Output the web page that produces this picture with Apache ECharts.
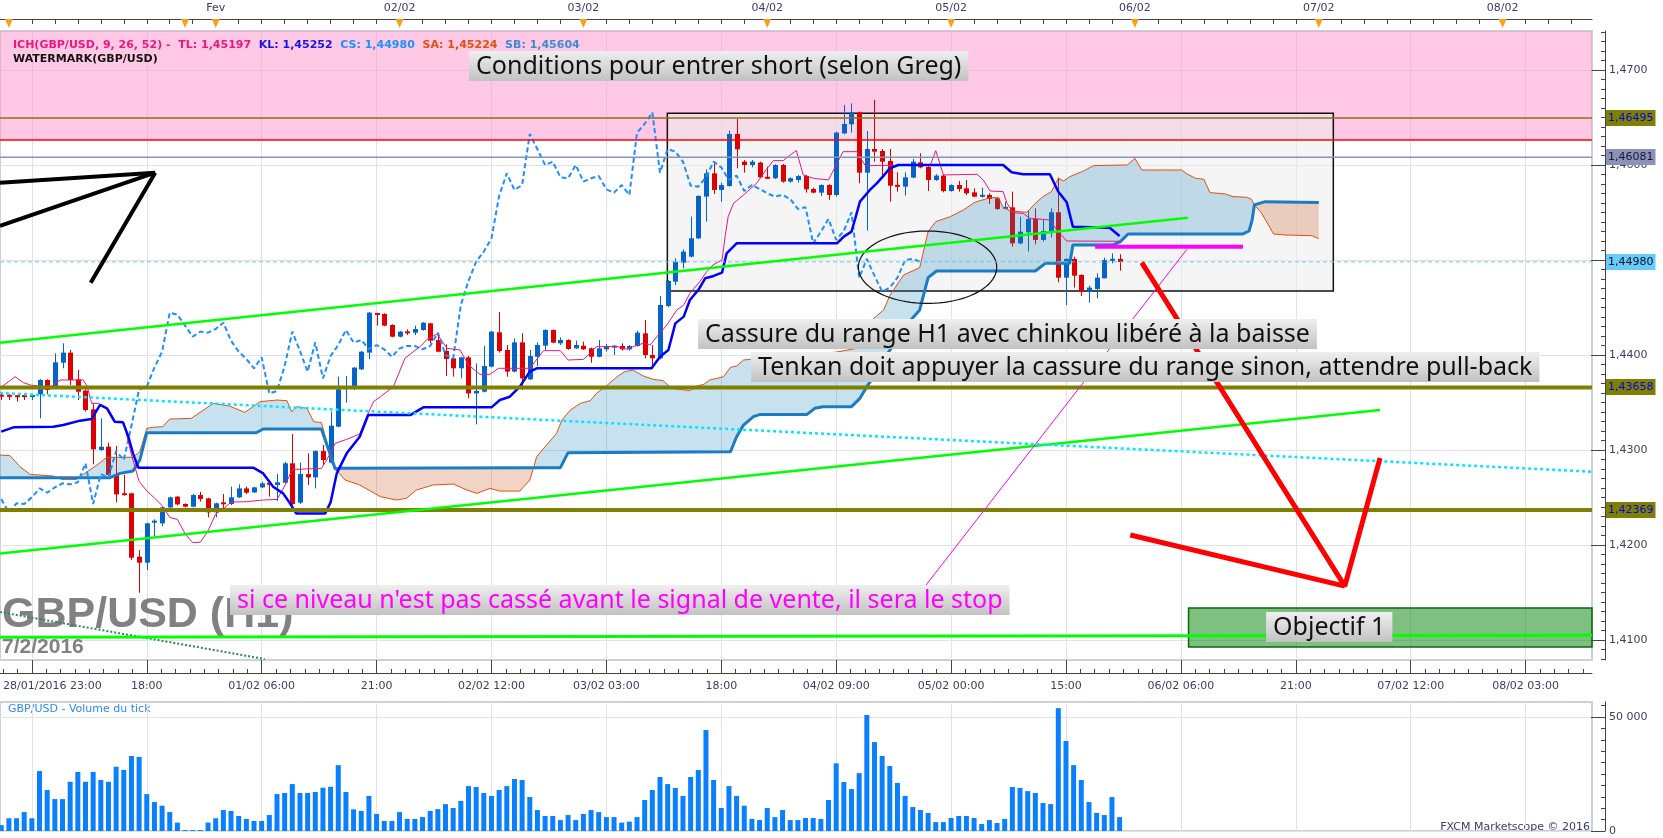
<!DOCTYPE html>
<html><head><meta charset="utf-8">
<script src="https://cdn.jsdelivr.net/npm/echarts@6/dist/echarts.min.js"></script>
<style>html,body{margin:0;padding:0;background:#fff}#c{width:1663px;height:838px}</style>
</head><body><div id="c"></div>
<script>
// ---------- DATA (hourly bars, index 0 = 28/01/2016 19:00) ----------
const openP = [1.43579,1.43579,1.43572,1.43575,1.43561,1.43586,1.43737,1.43674,1.43919,1.44025,
1.43744,1.43625,1.43428,1.43000,1.43035,1.42747,1.42544,1.42544,1.41877,1.41814,
1.42239,1.42228,1.42396,1.42509,1.42432,1.42404,1.42526,1.42491,1.42344,1.42446,
1.42432,1.42502,1.42596,1.42554,1.42607,1.42649,1.42632,1.42656,1.42860,1.42446,
1.42747,1.42712,1.42989,1.42867,1.43246,1.43649,1.43660,1.43849,1.44025,1.44439,
1.44432,1.44316,1.44193,1.44242,1.44235,1.44263,1.44333,1.44158,1.44042,1.43965,
1.43860,1.43975,1.43596,1.43614,1.43877,1.44239,1.44053,1.43825,1.44133,1.43744,
1.43982,1.44098,1.44263,1.44123,1.44158,1.44070,1.44098,1.44070,1.43982,1.44060,
1.44081,1.44095,1.44060,1.44095,1.44228,1.44000,1.43965,1.44516,1.44772,1.44972,
1.45035,1.45228,1.45667,1.45912,1.45737,1.45779,1.46326,1.46035,1.46000,1.46025,
1.45870,1.45860,1.46000,1.45825,1.45842,1.45884,1.45747,1.45709,1.45789,1.45684,
1.46333,1.46428,1.46554,1.45919,1.46168,1.46147,1.46042,1.45789,1.45772,1.45867,
1.46028,1.45979,1.45842,1.45888,1.45726,1.45789,1.45754,1.45712,1.45667,1.45684,
1.45649,1.45544,1.45554,1.45175,1.45291,1.45432,1.45211,1.45298,1.45502,1.44814,
1.45011,1.44842,1.44667,1.44695,1.44807,1.44993,1.45011];
const highP = [1.43596,1.43586,1.43579,1.43586,1.43586,1.43747,1.43744,1.44018,1.44123,1.44053,
1.43842,1.43639,1.43491,1.43333,1.43077,1.43042,1.42737,1.42551,1.41947,1.42235,
1.42270,1.42404,1.42509,1.42516,1.42439,1.42537,1.42561,1.42498,1.42446,1.42537,
1.42614,1.42639,1.42614,1.42614,1.42667,1.42656,1.42747,1.42874,1.43168,1.42867,
1.42965,1.42996,1.43053,1.43404,1.43772,1.43779,1.43874,1.44042,1.44453,1.44442,
1.44439,1.44323,1.44253,1.44270,1.44309,1.44347,1.44340,1.44200,1.44112,1.43972,
1.43982,1.43989,1.43912,1.44095,1.44253,1.44453,1.44105,1.44175,1.44228,1.44053,
1.44133,1.44270,1.44270,1.44186,1.44165,1.44151,1.44140,1.44077,1.44158,1.44116,
1.44105,1.44123,1.44105,1.44256,1.44368,1.44105,1.44621,1.44789,1.45018,1.45112,
1.45456,1.45681,1.45954,1.46025,1.45814,1.46361,1.46484,1.46053,1.46053,1.46035,
1.45982,1.46007,1.46011,1.45870,1.45895,1.45895,1.45761,1.45796,1.45796,1.46351,
1.46632,1.46649,1.46561,1.46358,1.46684,1.46168,1.46168,1.45923,1.45923,1.46063,
1.46123,1.45986,1.45902,1.45895,1.45796,1.45832,1.45842,1.45754,1.45761,1.45702,
1.45656,1.45614,1.45719,1.45456,1.45526,1.45544,1.45421,1.45544,1.45867,1.45018,
1.45035,1.44849,1.44730,1.44860,1.45025,1.45070,1.45060];
const lowP = [1.43526,1.43526,1.43509,1.43526,1.43526,1.43333,1.43586,1.43649,1.43860,1.43684,
1.43526,1.43404,1.42849,1.42993,1.42730,1.42449,1.42519,1.41842,1.41498,1.41737,
1.42095,1.42200,1.42389,1.42418,1.42396,1.42396,1.42456,1.42291,1.42291,1.42368,
1.42421,1.42495,1.42537,1.42547,1.42600,1.42509,1.42463,1.42649,1.42421,1.42432,
1.42632,1.42596,1.42842,1.42860,1.43239,1.43498,1.43632,1.43842,1.43958,1.44309,
1.44302,1.44186,1.44186,1.44211,1.44211,1.44256,1.44123,1.44028,1.43779,1.43772,
1.43754,1.43544,1.43270,1.43607,1.43870,1.44025,1.43772,1.43818,1.43632,1.43737,
1.43884,1.44053,1.44123,1.44105,1.44056,1.44063,1.44053,1.43919,1.43975,1.44035,
1.44000,1.44046,1.44046,1.44088,1.43965,1.43870,1.43954,1.44502,1.44737,1.44912,
1.45028,1.45221,1.45404,1.45695,1.45614,1.45772,1.45965,1.45919,1.45975,1.45860,
1.45853,1.45853,1.45814,1.45814,1.45814,1.45709,1.45702,1.45674,1.45632,1.45667,
1.46323,1.46340,1.45807,1.45309,1.46035,1.45877,1.45614,1.45719,1.45677,1.45860,
1.45965,1.45726,1.45832,1.45712,1.45719,1.45719,1.45684,1.45660,1.45656,1.45589,
1.45526,1.45537,1.45140,1.45165,1.45088,1.45165,1.45193,1.45235,1.44765,1.44526,
1.44709,1.44621,1.44551,1.44596,1.44807,1.44965,1.44888];
const closeP = [1.43565,1.43561,1.43561,1.43561,1.43575,1.43737,1.43632,1.43923,1.44025,1.43737,
1.43614,1.43421,1.43007,1.43035,1.42737,1.42533,1.42526,1.41867,1.41814,1.42228,
1.42253,1.42396,1.42502,1.42428,1.42404,1.42526,1.42484,1.42344,1.42439,1.42432,
1.42502,1.42596,1.42551,1.42607,1.42649,1.42639,1.42660,1.42860,1.42432,1.42747,
1.42712,1.42989,1.42895,1.43256,1.43639,1.43667,1.43867,1.44035,1.44446,1.44425,
1.44309,1.44193,1.44246,1.44235,1.44274,1.44340,1.44151,1.44035,1.43958,1.43860,
1.43975,1.43596,1.43621,1.43884,1.44246,1.44042,1.43825,1.44133,1.43754,1.43989,
1.44105,1.44263,1.44130,1.44158,1.44063,1.44105,1.44060,1.43982,1.44070,1.44095,
1.44095,1.44060,1.44095,1.44235,1.44000,1.43965,1.44526,1.44779,1.44982,1.45088,
1.45228,1.45674,1.45912,1.45737,1.45789,1.46326,1.46165,1.46000,1.46035,1.45870,
1.45860,1.46000,1.45825,1.45860,1.45884,1.45744,1.45709,1.45789,1.45684,1.46340,
1.46432,1.46554,1.45919,1.46168,1.46140,1.46035,1.45782,1.45772,1.45870,1.46035,
1.45975,1.45842,1.45888,1.45726,1.45789,1.45747,1.45702,1.45667,1.45684,1.45642,
1.45537,1.45554,1.45175,1.45298,1.45432,1.45211,1.45305,1.45502,1.44814,1.45011,
1.44835,1.44667,1.44709,1.44814,1.45000,1.45011,1.44980];
const tickVolume = [2600,5600,5600,8300,5600,26300,18000,14000,14000,21600,
25900,21600,25900,22400,21600,28200,26800,32900,32500,16200,
12700,11100,8300,3700,400,400,400,3700,5600,9200,
8800,6600,5300,4400,4400,7000,16200,16700,20600,16700,
16700,17100,19000,19400,28900,17100,9500,8800,15400,7500,
4400,4400,8300,5300,5300,6100,8800,9600,11800,10100,
13200,19700,19300,16700,15400,18000,19700,22800,22400,14900,
9200,6600,6600,4800,7000,4800,7500,9200,8300,6100,
6100,3700,4100,6100,13600,18000,23700,20600,18900,15400,
23700,26800,44300,22400,10100,19700,15400,11100,5300,4800,
10100,6100,9200,4800,4800,5700,5700,5300,13600,29700,
21500,18400,25400,50900,39000,32900,28500,21100,15400,10500,
9200,7900,3900,3900,5700,6600,6600,5700,3100,4800,
3500,5300,19300,18900,17500,16700,12300,11800,53900,39500,
28900,22400,12700,7900,7000,14900,6100];

// Ichimoku lines: [bar index, price]
const tenkan = [[0,1.43660],[1.8,1.43772],[2.9,1.43709],[3.8,1.43684],[4.8,1.43674],[5.5,1.43649],[6.4,1.43660],[7.7,1.43737],[10.7,1.43737],[11.2,1.43674],[11.8,1.43491],[12.7,1.43491],[14,1.43430],[15,1.43290],[16,1.43290],[17,1.42950],[18,1.42670],[19,1.42570],[20,1.42495],[21,1.42416],[22,1.42290],[23,1.42270],[24,1.42118],[25,1.42025],[26,1.42030],[27,1.42149],[28,1.42328],[29,1.42380],[30,1.42453],[32,1.42456],[34.2,1.42474],[36,1.42480],[37,1.42621],[38,1.42795],[41.8,1.42807],[42.5,1.42895],[43.6,1.43070],[45.1,1.43112],[46.8,1.43168],[47.7,1.43351],[48.6,1.43509],[49.5,1.43561],[51.2,1.43667],[52.7,1.43965],[53.8,1.44035],[54.7,1.44088],[55.6,1.44165],[56.9,1.44221],[58.2,1.44070],[59.9,1.44053],[61.0,1.43895],[62.5,1.43796],[63.8,1.43796],[64.9,1.43860],[69.0,1.43860],[70.8,1.44046],[73.0,1.44046],[74.0,1.43947],[76.0,1.43954],[76.9,1.44018],[77.7,1.44088],[80.4,1.44088],[81.7,1.44060],[82.5,1.44088],[83.8,1.44123],[84.7,1.44105],[85.6,1.44193],[86.9,1.44316],[88.2,1.44474],[89.1,1.44526],[89.9,1.44649],[91.2,1.44772],[92.1,1.44877],[92.9,1.44947],[94.1,1.45000],[94.5,1.45246],[94.9,1.45456],[95.6,1.45596],[96.9,1.45684],[98.6,1.45807],[99.9,1.45954],[100.8,1.46046],[102.1,1.46046],[103.0,1.46105],[103.8,1.46151],[104.7,1.45895],[106.0,1.45860],[108.0,1.45842],[109.1,1.46018],[109.9,1.46140],[111.7,1.46140],[112.8,1.45993],[121.3,1.46000],[122.0,1.46151],[123.0,1.45895],[127.4,1.45902],[128.2,1.45842],[129.1,1.45726],[130.8,1.45719],[131.3,1.45596],[132.1,1.45498],[133.4,1.45491],[134.3,1.45439],[136.9,1.45421],[137.8,1.45316],[139.1,1.45200],[146,1.45197]];
const kijun = [[0,1.43193],[1.6,1.43239],[6.8,1.43246],[8.1,1.43263],[10.3,1.43309],[11.8,1.43326],[12.9,1.43474],[13.8,1.43439],[14.8,1.43298],[15.9,1.43291],[16.6,1.43140],[17.2,1.42965],[17.9,1.42814],[32.9,1.42814],[34.2,1.42754],[35.5,1.42614],[36.8,1.42544],[37.7,1.42439],[38.5,1.42333],[42.3,1.42333],[43,1.42451],[43.8,1.42754],[45.1,1.42965],[46.8,1.43140],[47.9,1.43368],[53.4,1.43368],[55.1,1.43449],[64.0,1.43449],[65.1,1.43526],[66.4,1.43561],[67.7,1.43667],[69.0,1.43825],[69.9,1.43860],[84.9,1.43860],[86.0,1.43982],[87.1,1.44053],[88.0,1.44333],[89.1,1.44404],[89.9,1.44579],[91.0,1.44684],[91.9,1.44807],[93.0,1.44832],[94.1,1.44867],[94.7,1.45070],[96.0,1.45175],[109.1,1.45175],[110.0,1.45246],[111.0,1.45298],[111.5,1.45439],[112.1,1.45614],[113.4,1.45737],[114.3,1.45807],[115.2,1.45888],[116.0,1.45965],[117.1,1.46000],[130.8,1.46000],[131.9,1.45923],[133.4,1.45902],[136.9,1.45902],[138.0,1.45719],[139.1,1.45607],[139.9,1.45351],[144.7,1.45340],[146,1.45252]];
const senkouA = [[-0.16,1.42947],[1.15,1.42940],[2.45,1.42825],[3.76,1.42744],[6.8,1.42726],[7.9,1.42691],[9.8,1.42691],[10.9,1.42754],[12.5,1.42842],[13.8,1.42923],[17.2,1.42923],[18.1,1.42982],[19.0,1.43228],[19.8,1.43239],[21.1,1.43246],[22.0,1.43326],[24.8,1.43333],[27.7,1.43491],[29.8,1.43463],[31.8,1.43396],[33.8,1.43509],[36.0,1.43526],[37.3,1.43519],[37.9,1.43404],[38.6,1.43456],[39.9,1.43439],[40.8,1.43298],[41.8,1.43288],[42.9,1.42965],[43.6,1.42800],[44.9,1.42684],[46.8,1.42632],[49.5,1.42509],[51.6,1.42474],[52.9,1.42491],[54.2,1.42579],[56.4,1.42632],[59.0,1.42642],[60.8,1.42579],[62.1,1.42544],[63.8,1.42596],[65.1,1.42568],[67.7,1.42568],[69.0,1.42684],[69.5,1.42814],[69.9,1.42930],[71.2,1.43053],[72.5,1.43175],[73.2,1.43316],[74.3,1.43421],[75.6,1.43491],[76.9,1.43519],[77.7,1.43596],[79.0,1.43674],[80.4,1.43772],[81.4,1.43825],[82.5,1.43842],[83.8,1.43779],[85.1,1.43744],[86.4,1.43730],[87.5,1.43649],[88.6,1.43638],[89.9,1.43625],[90.8,1.43674],[91.7,1.43691],[92.5,1.43737],[93.4,1.43754],[94.3,1.43772],[95.2,1.43870],[96.0,1.43884],[96.9,1.43947],[97.7,1.43954],[98.6,1.43975],[101.0,1.44000],[105.0,1.44010],[109.0,1.44030],[111.7,1.44070],[112.7,1.44175],[113.9,1.44386],[115.2,1.44474],[116.0,1.44625],[117.8,1.44842],[119.9,1.44919],[121.0,1.45298],[122.0,1.45404],[123.9,1.45456],[125.6,1.45526],[127.1,1.45607],[129.1,1.45656],[130.2,1.45656],[130.8,1.45551],[131.7,1.45516],[133.9,1.45502],[135.0,1.45596],[136.0,1.45667],[137.1,1.45719],[138.0,1.45860],[138.7,1.45832],[139.5,1.45877],[141.3,1.45937],[142.6,1.45993],[147.0,1.46000],[148.0,1.46070],[148.9,1.45947],[154.1,1.45947],[154.8,1.45905],[155.9,1.45860],[157.0,1.45849],[157.8,1.45709],[159.8,1.45695],[160.8,1.45667],[162.6,1.45660],[163.2,1.45639],[163.6,1.45580],[164.5,1.45498],[166.1,1.45274],[167.6,1.45263],[171.1,1.45256],[172.0,1.45224]];
const senkouB = [[-0.16,1.42709],[14.2,1.42709],[15.5,1.42754],[17.2,1.42779],[18.1,1.42895],[19.0,1.43182],[33.3,1.43182],[34.2,1.43221],[41.8,1.43221],[42.9,1.42965],[43.6,1.42800],[44.0,1.42807],[69.5,1.42814],[73.0,1.42814],[74.0,1.42972],[95.2,1.42982],[96.0,1.43140],[96.9,1.43263],[98.2,1.43351],[99.1,1.43375],[105.2,1.43375],[106.2,1.43439],[107.3,1.43456],[111.0,1.43456],[112.1,1.43544],[113.0,1.43667],[113.9,1.43772],[114.7,1.43895],[116.0,1.44050],[118.0,1.44300],[119.9,1.44474],[121.0,1.44814],[122.1,1.44884],[135.0,1.44884],[136.3,1.44965],[139.5,1.44965],[139.9,1.45158],[145.2,1.45158],[146.1,1.45193],[147.1,1.45274],[162.1,1.45274],[162.9,1.45305],[163.3,1.45421],[163.6,1.45580],[163.7,1.45596],[165.0,1.45614],[172.0,1.45604]];
const cloudSegments = [[-0.16, 43.6, 'up'], [43.6, 69.5, 'down'], [69.5, 163.6, 'up'], [163.6, 172.0, 'down']];
const chikouLag = 26;

// Legend values
const ichLabels = ['TL', 'KL', 'CS', 'SA', 'SB'];
const ichValues = [1.45197, 1.45252, 1.44980, 1.45224, 1.45604];

// Axis ticks / labels
const xBottomTicks = [4, 19, 34, 49, 64, 79, 94, 109, 124, 139, 154, 169, 184, 199];
const xBottomLabels = ['28/01/2016 23:00', '18:00', '01/02 06:00', '21:00', '02/02 12:00', '03/02 03:00', '18:00', '04/02 09:00', '05/02 00:00', '15:00', '06/02 06:00', '21:00', '07/02 12:00', '08/02 03:00'];
const xTopTicks = [28, 52, 76, 100, 124, 148, 172, 196];
const xTopLabels = ['Fev', '02/02', '03/02', '04/02', '05/02', '06/02', '07/02', '08/02'];
const calendarMarks = [1, 24, 28, 52, 76, 100, 124, 148, 172, 196];
const yTicks = [1.41, 1.42, 1.43, 1.44, 1.45, 1.46, 1.47];
const volTicks = [0, 50000];

// Drawn levels & annotations (price levels, trend lines, notes)
const priceLevels = [1.46495, 1.46263, 1.46081, 1.44980, 1.43658, 1.42369];
const zoneRects = [[-0.16, 1.4741, 207.67, 1.46263], [86.96, 1.46544, 173.9, 1.44674], [155.0, 1.41337, 207.67, 1.40926]];
const upperTrend = [[-0.16, 1.44129], [154.9, 1.45445]];
const lowerTrend = [[-0.16, 1.41912], [180.0, 1.43420]];
const bottomLine = [[-0.16, 1.41030], [207.67, 1.41050]];
const cyanTrend = [[-0.16, 1.43600], [207.67, 1.42772]];
const magentaThin = [[118.9, 1.41389], [154.8, 1.45113]];
const magentaLevel = [[142.8, 1.45140], [162.1, 1.45140]];
const redArrow1 = [[148.9, 1.44972], [175.4, 1.41568], [180.0, 1.42916]];
const redArrow2 = [[147.4, 1.42105], [175.4, 1.41568]];
const blackArrow1 = [[-0.16, 1.45814], [20.1, 1.45919]];
const blackArrow2 = [[-0.16, 1.45358], [20.1, 1.45919]];
const blackArrow3 = [[11.68, 1.44761], [20.1, 1.45919]];
const greenDotted = [[-0.16, 1.41295], [34.4, 1.40800]];
const ellipseNote = [120.93, 1.44924, 9.03, 0.00381];
const notes = [
  [61.07, 1.47200, 'Conditions pour entrer short (selon Greg)'],
  [90.97, 1.44379, 'Cassure du range H1 avec chinkou libéré à la baisse'],
  [97.88, 1.44032, 'Tenkan doit appuyer la cassure du range sinon, attendre pull-back'],
  [29.87, 1.41579, "si ce niveau n'est pas cassé avant le signal de vente, il sera le stop"],
  [165.12, 1.41295, 'Objectif 1']
];

// ---------- RENDERING ----------
const xMin = -0.16, xMax = 207.67, yMin = 1.4079, yMax = 1.4741, volMax = 56600;
const FONT = 'DejaVu Sans';
const AX = '#3c3c64';
const fmtPrice = (v, d) => v.toFixed(d).replace('.', ',');

const xMinor = [];
for (let k = -2; k < 120; k++) { const v = 4 + k * 15 / 8; if (v >= xMin && v <= xMax && k % 8 !== 0) xMinor.push(v); }
const xTopMinor = [];
for (let v = 1; v <= xMax; v += 3) xTopMinor.push(v);
const yMinor = [];
for (let k = 1408; k <= 1474; k++) { if (k % 10 !== 0) yMinor.push(k / 1000); }
const volMinor = [];
for (let v = 5000; v < volMax; v += 5000) if (v !== 50000) volMinor.push(v);

const candleData = openP.map((o, i) => [i, o, highP[i], lowP[i], closeP[i]]);
const chikou = closeP.slice(chikouLag).map((c, k) => [k, c]);
const volData = tickVolume.map((v, i) => [i, v]);

function renderCandle(params, api) {
  const i = api.value(0), o = api.value(1), h = api.value(2), l = api.value(3), c = api.value(4);
  const po = api.coord([i, o]), pc = api.coord([i, c]), ph = api.coord([i, h]), pl = api.coord([i, l]);
  const w = Math.max(3, Math.round(api.size([1, 0])[0] * 0.62));
  const cx = Math.round(po[0]);
  const color = c >= o ? '#0563c9' : '#dc0000';
  let top = Math.min(po[1], pc[1]);
  let hh = Math.abs(po[1] - pc[1]);
  if (hh < 2) { top -= (2 - hh) / 2; hh = 2; }
  return { type: 'group', children: [
    { type: 'line', shape: { x1: cx + 0.5, y1: ph[1], x2: cx + 0.5, y2: pl[1] }, style: { stroke: color, lineWidth: 1 } },
    { type: 'rect', shape: { x: cx + 0.5 - w / 2, y: top, width: w, height: hh }, style: { fill: color } }
  ]};
}
function renderCloud(params, api) {
  const seg = cloudSegments[params.dataIndex];
  const a = seg[0] - 1e-9, b = seg[1] + 1e-9;
  const pts = [];
  senkouA.forEach(p => { if (p[0] >= a && p[0] <= b) pts.push(api.coord(p)); });
  senkouB.slice().reverse().forEach(p => { if (p[0] >= a && p[0] <= b) pts.push(api.coord(p)); });
  return { type: 'polygon', shape: { points: pts }, style: { fill: seg[2] === 'up' ? 'rgba(35,135,187,0.25)' : 'rgba(205,85,30,0.25)' } };
}
const zoneStyles = [
  { fill: 'rgba(255,145,201,0.5)', stroke: null },
  { fill: 'rgba(236,236,236,0.55)', stroke: '#111', lineWidth: 1.5 },
  { fill: 'rgba(0,128,0,0.5)', stroke: '#0a6a0a', lineWidth: 1.5 }
];
function renderZone(params, api) {
  const r = zoneRects[params.dataIndex];
  const p1 = api.coord([r[0], r[1]]), p2 = api.coord([r[2], r[3]]);
  return { type: 'rect', shape: { x: p1[0], y: p1[1], width: p2[0] - p1[0], height: p2[1] - p1[1] }, style: zoneStyles[params.dataIndex] };
}
function renderEllipse(params, api) {
  const c = api.coord([ellipseNote[0], ellipseNote[1]]);
  const s = api.size([ellipseNote[2], ellipseNote[3]]);
  const pts = [];
  for (let k = 0; k <= 90; k++) { const t = k / 90 * 2 * Math.PI; pts.push([c[0] + s[0] * Math.cos(t), c[1] + s[1] * Math.sin(t)]); }
  return { type: 'polyline', shape: { points: pts }, style: { stroke: '#111', lineWidth: 1.2, fill: null } };
}
function renderMarker(params, api) {
  const p = api.coord([api.value(0), yMax]);
  return { type: 'polygon', shape: { points: [[p[0] - 4, p[1] - 12], [p[0] + 4, p[1] - 12], [p[0], p[1] - 3]] }, style: { fill: '#f7a21b' } };
}
const NOTE_FONT = '25px "Noto Sans"';
const noteColors = ['#111', '#111', '#111', '#ff00ff', '#111'];
const measureCtx = document.createElement('canvas').getContext('2d');
function renderNote(params, api) {
  const n = notes[params.dataIndex];
  const p = api.coord([n[0], n[1]]);
  measureCtx.font = NOTE_FONT;
  const w = measureCtx.measureText(n[2]).width + 14, h = 30;
  return { type: 'group', children: [
    { type: 'rect', shape: { x: p[0], y: p[1], width: w, height: h },
      style: { fill: new echarts.graphic.LinearGradient(0, 0, 0, 1, [{ offset: 0, color: '#efefef' }, { offset: 1, color: '#c2c2c2' }]) } },
    { type: 'text', style: { x: p[0] + 7, y: p[1] + h / 2 + 1, text: n[2], font: NOTE_FONT, fill: noteColors[params.dataIndex], align: 'left', verticalAlign: 'middle' } }
  ]};
}
function lineSeries(data, color, width, type, z) {
  return { type: 'line', data: data, xAxisIndex: 0, yAxisIndex: 0, symbol: 'none', silent: true, z: z || 6,
    lineStyle: { color: color, width: width, type: type || 'solid' } };
}
const levelStyles = [
  { color: '#8d6e1c', width: 1.5, type: 'solid', bg: '#808000', fg: '#0000ee' },
  { color: '#ff0000', width: 1.5, type: 'solid', bg: null },
  { color: '#8a93b8', width: 1.5, type: 'solid', bg: '#8b92b8', fg: '#15153a' },
  { color: '#6cc8f0', width: 1, type: [4, 3], bg: '#66ccff', fg: '#111' },
  { color: '#808000', width: 4, type: 'solid', bg: '#808000', fg: '#0000ee' },
  { color: '#808000', width: 4, type: 'solid', bg: '#808000', fg: '#0000ee' }
];
const TAG_FONT = '11px "DejaVu Sans"';
function renderTag(params, api) {
  const k = params.dataIndex, s = levelStyles[k];
  if (!s.bg) return null;
  const v = priceLevels[k];
  const p = api.coord([xMax, v]);
  const txt = fmtPrice(v, 5);
  measureCtx.font = TAG_FONT;
  const w = measureCtx.measureText(txt).width + 4;
  const x0 = p[0] + 14;
  return { type: 'group', children: [
    { type: 'rect', shape: { x: x0, y: Math.round(p[1]) - 8, width: w, height: 16 }, style: { fill: s.bg } },
    { type: 'text', style: { x: x0 + 2, y: Math.round(p[1]) + 0.5, text: txt, font: TAG_FONT, fill: s.fg, align: 'left', verticalAlign: 'middle' } }
  ]};
}
const levelSeries = priceLevels.map((v, k) => lineSeries([[xMin, v], [xMax, v]], levelStyles[k].color, levelStyles[k].width, levelStyles[k].type, 6));

const ichColors = ['#f0157f', '#1515e6', '#1e90ff', '#e2500f', '#3c8cd2'];
let ichText = '{t0|ICH(GBP/USD, 9, 26, 52) -  ' + ichLabels[0] + ': ' + fmtPrice(ichValues[0], 5) + '}';
for (let k = 1; k < ichLabels.length; k++) ichText += '  {t' + k + '|' + ichLabels[k] + ': ' + fmtPrice(ichValues[k], 5) + '}';
ichText += '\n{wm|WATERMARK(GBP/USD)}';
const rich = { wm: { color: '#111', fontSize: 11, fontFamily: FONT, lineHeight: 14 } };
ichColors.forEach((c, k) => { rich['t' + k] = { color: c, fontSize: 11, fontFamily: FONT, lineHeight: 14 }; });

const gridLine = { show: true, lineStyle: { color: '#e2e2e2', width: 1 } };
const option = {
  animation: false,
  backgroundColor: '#ffffff',
  title: [{ left: 8, top: 33, text: ichText, textStyle: { fontSize: 11, fontFamily: FONT, rich: rich } }],
  grid: [
    { left: 0, right: 71, top: 31, height: 629, show: true, borderColor: '#c9d1dd', borderWidth: 2, backgroundColor: 'transparent', outerBoundsMode: 'none' },
    { left: 0, right: 71, top: 702, height: 129, show: true, borderColor: '#c9d1dd', borderWidth: 2, backgroundColor: 'transparent', outerBoundsMode: 'none' }
  ],
  xAxis: [
    { type: 'value', gridIndex: 0, position: 'bottom', offset: 13, min: xMin, max: xMax,
      axisLine: { show: true, onZero: false, lineStyle: { color: '#444', width: 1 } },
      axisTick: { show: true, inside: true, length: 13, customValues: xBottomTicks, lineStyle: { color: '#444' } },
      axisLabel: { show: true, customValues: xBottomTicks, margin: 8, color: AX, fontSize: 11, fontFamily: FONT,
        formatter: v => { const k = xBottomTicks.indexOf(Math.round(v)); return k === 0 ? '{f|' + xBottomLabels[0] + '}' : (xBottomLabels[k] || ''); },
        rich: { f: { color: AX, fontSize: 11, fontFamily: FONT, padding: [0, 0, 0, 41] } } },
      splitLine: gridLine },
    { type: 'value', gridIndex: 0, position: 'top', offset: 12, min: xMin, max: xMax,
      axisLine: { show: true, onZero: false, lineStyle: { color: '#444', width: 1 } },
      axisTick: { show: true, inside: true, length: 5, customValues: xTopMinor, lineStyle: { color: '#444' } },
      axisLabel: { show: true, customValues: xTopTicks, margin: 5, color: AX, fontSize: 11, fontFamily: FONT,
        formatter: v => xTopLabels[xTopTicks.indexOf(Math.round(v))] || '' },
      splitLine: { show: false } },
    { type: 'value', gridIndex: 0, position: 'bottom', offset: 13, min: xMin, max: xMax,
      axisLine: { show: false, onZero: false }, axisLabel: { show: false },
      axisTick: { show: true, inside: true, length: 4, customValues: xMinor, lineStyle: { color: '#444' } },
      splitLine: { show: false } },
    { type: 'value', gridIndex: 1, position: 'bottom', min: xMin, max: xMax,
      axisLine: { show: false, onZero: false }, axisLabel: { show: false },
      axisTick: { show: false, customValues: xBottomTicks }, splitLine: gridLine }
  ],
  yAxis: [
    { type: 'value', gridIndex: 0, position: 'right', offset: 13, min: yMin, max: yMax, scale: true,
      axisLine: { show: true, onZero: false, lineStyle: { color: '#444', width: 1 } },
      axisTick: { show: true, inside: true, length: 14, customValues: yTicks, lineStyle: { color: '#444' } },
      axisLabel: { show: true, customValues: yTicks, margin: 4, color: AX, fontSize: 11, fontFamily: FONT, formatter: v => fmtPrice(v, 4) },
      splitLine: gridLine },
    { type: 'value', gridIndex: 0, position: 'right', offset: 13, min: yMin, max: yMax, scale: true,
      axisLine: { show: false, onZero: false }, axisLabel: { show: false },
      axisTick: { show: true, inside: true, length: 4, customValues: yMinor, lineStyle: { color: '#444' } },
      splitLine: { show: false } },
    { type: 'value', gridIndex: 1, position: 'right', offset: 13, min: 0, max: volMax,
      axisLine: { show: true, onZero: false, lineStyle: { color: '#444', width: 1 } },
      axisTick: { show: true, inside: true, length: 14, customValues: volTicks, lineStyle: { color: '#444' } },
      axisLabel: { show: true, customValues: volTicks, margin: 4, color: AX, fontSize: 11, fontFamily: FONT,
        formatter: v => v === 0 ? '0' : String(v).replace(/\B(?=(\d{3})+(?!\d))/g, ' ') },
      splitLine: gridLine },
    { type: 'value', gridIndex: 1, position: 'right', offset: 13, min: 0, max: volMax,
      axisLine: { show: false, onZero: false }, axisLabel: { show: false },
      axisTick: { show: true, inside: true, length: 4, customValues: volMinor, lineStyle: { color: '#444' } },
      splitLine: { show: false } }
  ],
  graphic: [
    { type: 'text', left: 2, top: 594, z: 1, silent: true, style: { text: 'GBP/USD (H1)', font: 'bold 43px "Liberation Sans"', fill: 'rgba(112,112,112,0.88)' } },
    { type: 'text', left: 2, top: 637, z: 1, silent: true, style: { text: '7/2/2016', font: 'bold 21px "Liberation Sans"', fill: 'rgba(112,112,112,0.88)' } },
    { type: 'text', left: 8, top: 704, silent: true, style: { text: 'GBP/USD - Volume du tick', font: '11px "DejaVu Sans"', fill: '#2a8cf0' } },
    { type: 'text', right: 73, top: 822, silent: true, style: { text: 'FXCM Marketscope © 2016', font: '11px "DejaVu Sans"', fill: '#3c3c64' } }
  ],
  series: [
    { type: 'custom', name: 'zones', xAxisIndex: 0, yAxisIndex: 0, z: 1, silent: true, renderItem: renderZone, data: zoneRects.map(r => [r[0]]) },
    { type: 'custom', name: 'markers', xAxisIndex: 0, yAxisIndex: 0, z: 2, silent: true, clip: false, renderItem: renderMarker, data: calendarMarks.map(v => [v]) },
    lineSeries(greenDotted, '#2e8b57', 2, 'dotted', 2),
    { type: 'custom', name: 'candles', xAxisIndex: 0, yAxisIndex: 0, z: 3, silent: true, renderItem: renderCandle, data: candleData },
    { type: 'custom', name: 'cloud', xAxisIndex: 0, yAxisIndex: 0, z: 4, silent: true, renderItem: renderCloud, data: cloudSegments.map(s => [s[0]]) },
    lineSeries(senkouA, '#e2500f', 1, 'solid', 5),
    lineSeries(senkouB, '#1a7cc4', 3, 'solid', 5),
    lineSeries(chikou, '#1e8fff', 2, [5, 3], 5),
    lineSeries(tenkan, '#f0157f', 1, 'solid', 5),
    lineSeries(kijun, '#0000ff', 2.5, 'solid', 5),
    ...levelSeries,
    { type: 'custom', name: 'tags', xAxisIndex: 0, yAxisIndex: 0, z: 7, silent: true, clip: false, renderItem: renderTag, data: priceLevels.map(() => [xMax]) },
    lineSeries(upperTrend, '#00ff00', 2.5),
    lineSeries(lowerTrend, '#00ff00', 2.5),
    lineSeries(bottomLine, '#00ff00', 3),
    lineSeries(cyanTrend, '#00e8ff', 2.5, [3, 3]),
    lineSeries(magentaThin, '#ff00ff', 1),
    lineSeries(magentaLevel, '#ff00ff', 4),
    lineSeries(redArrow1, '#ff0000', 5),
    lineSeries(redArrow2, '#ff0000', 5),
    lineSeries(blackArrow1, '#000000', 4),
    lineSeries(blackArrow2, '#000000', 4),
    lineSeries(blackArrow3, '#000000', 4),
    { type: 'custom', name: 'ellipse', xAxisIndex: 0, yAxisIndex: 0, z: 6, silent: true, renderItem: renderEllipse, data: [[ellipseNote[0]]] },
    { type: 'custom', name: 'notes', xAxisIndex: 0, yAxisIndex: 0, z: 8, silent: true, clip: false, renderItem: renderNote, data: notes.map(n => [n[0]]) },
    { type: 'bar', name: 'volume', xAxisIndex: 3, yAxisIndex: 2, data: volData, barWidth: 5, silent: true, itemStyle: { color: '#0a80ff' } }
  ]
};
const chart = echarts.init(document.getElementById('c'), null, { renderer: 'canvas' });
chart.setOption(option);
</script>
</body></html>
